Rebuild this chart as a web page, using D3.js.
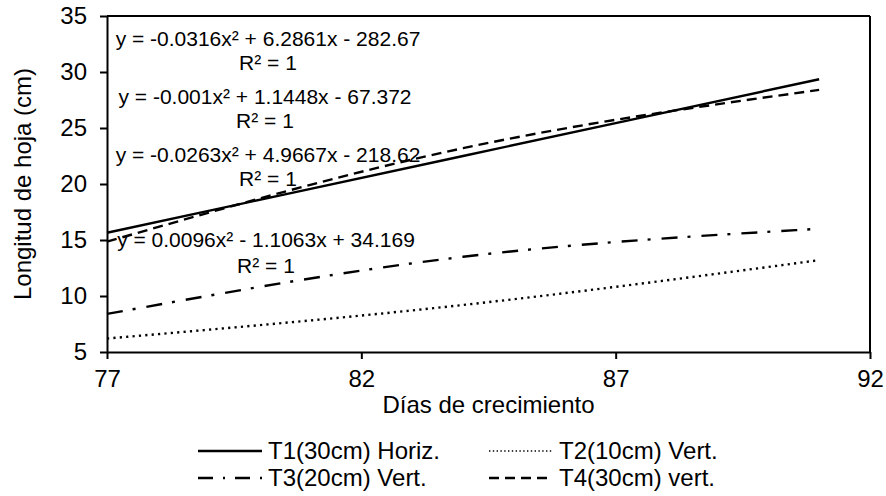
<!DOCTYPE html>
<html>
<head>
<meta charset="utf-8">
<script src="https://cdn.jsdelivr.net/npm/d3@7/dist/d3.min.js"></script>
<style>
  html, body { margin: 0; padding: 0; background: #fff; }
  svg { display: block; font-family: "Liberation Sans", Arial, sans-serif; }
</style>
</head>
<body>
<svg id="chart" width="886" height="496"></svg>
<script>
// Leaf length (cm) by growth day, per treatment
const days = [77, 84, 91];
const t1Horiz = [15.65, 22.5, 29.35];
const t2Vert = [6.2, 9.2, 13.2];
const t3Vert = [8.4, 13.5, 16.0];
const t4Vert = [14.85, 23.2, 28.4];

const seriesNames = ["T1(30cm) Horiz.", "T2(10cm) Vert.", "T3(20cm) Vert.", "T4(30cm) vert."];

// Polynomial trend equations shown on the plot
const equationLines = [
  ["y = -0.0316x\u00b2 + 6.2861x - 282.67", "R\u00b2 = 1"],
  ["y = -0.001x\u00b2 + 1.1448x - 67.372", "R\u00b2 = 1"],
  ["y = -0.0263x\u00b2 + 4.9667x - 218.62", "R\u00b2 = 1"],
  ["y = 0.0096x\u00b2 - 1.1063x + 34.169", "R\u00b2 = 1"]
];

const xTicks = [77, 82, 87, 92];
const yTicks = [5, 10, 15, 20, 25, 30, 35];

const svg = d3.select("#chart");
const plotLeft = 107, plotRight = 870, plotTop = 16, plotBottom = 352;

const x = d3.scaleLinear().domain([77, 92]).range([plotLeft, plotRight]);
const y = d3.scaleLinear().domain([5, 35]).range([plotBottom, plotTop]);

// Line styles per series
const styles = [
  { dash: null, width: 2.4 },
  { dash: "2.2,4.2", width: 2.4 },
  { dash: "16,10,3,11", width: 2.4 },
  { dash: "10,6", width: 2.4 }
];
const seriesValues = [t1Horiz, t2Vert, t3Vert, t4Vert];

// Equation labels (drawn beneath the curves)
const eqGroup = svg.append("g").attr("font-size", 21).attr("fill", "#000");
const eqPos = [
  { cx: 268, y1: 46, y2: 70 },
  { cx: 265, y1: 104, y2: 128 },
  { cx: 268, y1: 162, y2: 186 },
  { cx: 266, y1: 247, y2: 273 }
];
equationLines.forEach((lines, i) => {
  const p = eqPos[i];
  eqGroup.append("text").attr("x", p.cx).attr("y", p.y1)
    .attr("text-anchor", "middle").text(lines[0]);
  eqGroup.append("text").attr("x", p.cx).attr("y", p.y2)
    .attr("text-anchor", "middle").text(lines[1]);
});

// Axes
const yAxis = d3.axisLeft(y).tickValues(yTicks).tickSize(7).tickSizeOuter(0).tickPadding(13);
const xAxis = d3.axisBottom(x).tickValues(xTicks).tickSize(7).tickSizeOuter(0).tickPadding(11);

const gy = svg.append("g").attr("transform", `translate(${plotLeft},0)`).call(yAxis);
const gx = svg.append("g").attr("transform", `translate(0,${plotBottom})`).call(xAxis);
[gx, gy].forEach(g => {
  g.selectAll("path, line").attr("stroke", "#000").attr("stroke-width", 2);
  g.selectAll("text").attr("font-size", 24).attr("fill", "#000")
    .attr("font-family", "Liberation Sans, Arial, sans-serif");
});

// Plot frame: top and right edges
svg.append("line").attr("x1", plotLeft).attr("x2", plotRight).attr("y1", plotTop).attr("y2", plotTop)
  .attr("stroke", "#000").attr("stroke-width", 2);
svg.append("line").attr("x1", plotRight).attr("x2", plotRight).attr("y1", plotTop).attr("y2", plotBottom)
  .attr("stroke", "#000").attr("stroke-width", 2);

// Trend curves
const line = d3.line().x(d => x(d[0])).y(d => y(d[1])).curve(d3.curveNatural);
seriesValues.forEach((vals, i) => {
  svg.append("path")
    .datum(days.map((d, k) => [d, vals[k]]))
    .attr("d", line)
    .attr("fill", "none")
    .attr("stroke", "#000")
    .attr("stroke-width", styles[i].width)
    .attr("stroke-dasharray", styles[i].dash);
});

// Axis titles
svg.append("text").attr("x", (plotLeft + plotRight) / 2).attr("y", 413)
  .attr("text-anchor", "middle").attr("font-size", 24).text("Días de crecimiento");
svg.append("text")
  .attr("transform", `translate(31,${(plotTop + plotBottom) / 2}) rotate(-90)`)
  .attr("text-anchor", "middle").attr("font-size", 24).text("Longitud de hoja (cm)");

// Legend
const legendItems = [
  { col: 0, row: 0 }, { col: 1, row: 0 }, { col: 0, row: 1 }, { col: 1, row: 1 }
];
const legendStyles = [
  { dash: null, width: 2.4 },
  { dash: "1.4,2.4", width: 1.6 },
  { dash: "15,10,2,10", width: 2.4 },
  { dash: "10,6", width: 2.4 }
];
const colX = [198, 489];
const rowY = [459, 486];
const legend = svg.append("g");
legendItems.forEach((it, i) => {
  const x0 = colX[it.col], yb = rowY[it.row];
  legend.append("line")
    .attr("x1", x0).attr("x2", x0 + 64)
    .attr("y1", yb - 8).attr("y2", yb - 8)
    .attr("stroke", "#000")
    .attr("stroke-width", legendStyles[i].width)
    .attr("stroke-dasharray", legendStyles[i].dash);
  legend.append("text").attr("x", x0 + 70).attr("y", yb)
    .attr("font-size", 24).text(seriesNames[i]);
});
</script>
</body>
</html>
